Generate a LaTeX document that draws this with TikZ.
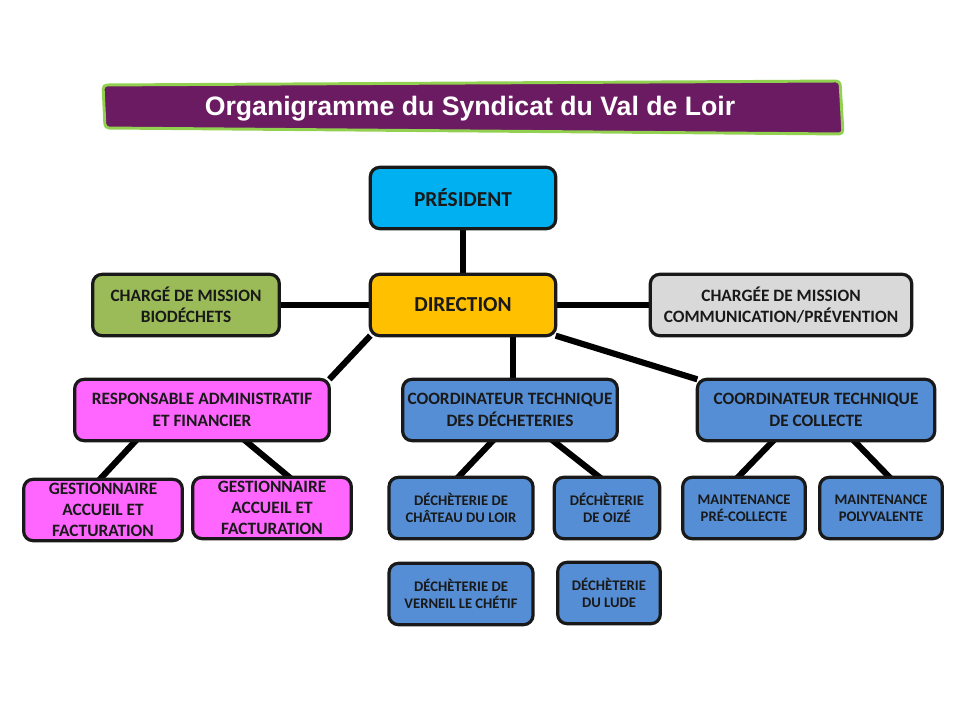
\documentclass[tikz,border=0pt]{standalone}
\usepackage{fontspec}
\setmainfont{Carlito}
\newfontfamily\titlefont{Liberation Sans}
\usetikzlibrary{calc,positioning,backgrounds}
\definecolor{ciel}{HTML}{00B0F0}
\definecolor{orange}{HTML}{FFC000}
\definecolor{olive}{HTML}{9BBB59}
\definecolor{gris}{HTML}{D9D9D9}
\definecolor{rose}{HTML}{FF66FF}
\definecolor{bleu}{HTML}{558ED5}
\definecolor{violet}{HTML}{6B1B62}
\definecolor{vert}{HTML}{92D050}

\begin{document}
\begin{tikzpicture}[x=0.75pt,y=-0.75pt,inner sep=0.4mm,
  box/.style={draw=black!90,line width=2.4pt,rounded corners=7pt,align=center,outer sep=0pt,
    text=black!90,minimum height=46pt,font=\bfseries\fontsize{13}{16}\selectfont},
  small/.style={font=\bfseries\fontsize{11}{12.5}\selectfont},
  lien/.style={line width=4.6pt,shorten <=-3pt,shorten >=-3pt}]
\useasboundingbox (0,0) rectangle (960,720);
% titre
\draw[fill=violet,draw=vert,line width=2.2pt,rounded corners=3pt]
  (103,85) -- (840,81) -- (843,134) -- (105,128) -- cycle;
\node[text=white,font=\titlefont\bfseries\fontsize{20}{24}\selectfont] (titre) at (470,109) {Organigramme du Syndicat du Val de Loir};
% niveau 1
\node[box,fill=ciel,minimum width=139pt,font=\bfseries\fontsize{16}{19}\selectfont] (pres) at (463,198) {PRÉSIDENT};
\node[box,fill=orange,minimum width=139pt,font=\bfseries\fontsize{16}{19}\selectfont] (dir) at (463,305) {DIRECTION};
\node[box,fill=olive,minimum width=140pt] (bio) at (186,305) {CHARGÉ DE MISSION\\BIODÉCHETS};
\node[box,fill=gris,minimum width=196pt] (com) at (781,305) {CHARGÉE DE MISSION\\COMMUNICATION/PRÉVENTION};
% niveau 2
\node[box,fill=rose,minimum width=191pt] (resp) at (202,410) {RESPONSABLE ADMINISTRATIF\\ET FINANCIER};
\node[box,fill=bleu,minimum width=161pt] (coordd) at (510,410) {COORDINATEUR TECHNIQUE\\DES DÉCHETERIES};
\node[box,fill=bleu,minimum width=178pt] (coordc) at (816,410) {COORDINATEUR TECHNIQUE\\DE COLLECTE};
% niveau 3
\node[box,fill=rose,minimum width=119pt] (gest1) at (103,510) {GESTIONNAIRE\\ACCUEIL ET\\FACTURATION};
\node[box,fill=rose,minimum width=119pt] (gest2) at (272,508) {GESTIONNAIRE\\ACCUEIL ET\\FACTURATION};
\node[box,small,fill=bleu,minimum width=108pt] (dech1) at (461,508) {DÉCHÈTERIE DE\\CHÂTEAU DU LOIR};
\node[box,small,fill=bleu,minimum width=79pt] (dech2) at (607,508) {DÉCHÈTERIE\\DE OIZÉ};
\node[box,small,fill=bleu,minimum width=108pt] (dech3) at (461,594) {DÉCHÈTERIE DE\\VERNEIL LE CHÉTIF};
\node[box,small,fill=bleu,minimum width=77pt] (dech4) at (609,593) {DÉCHÈTERIE\\DU LUDE};
\node[box,small,fill=bleu,minimum width=92pt] (maint1) at (744,508) {MAINTENANCE\\PRÉ-COLLECTE};
\node[box,small,fill=bleu,minimum width=92pt] (maint2) at (881,508) {MAINTENANCE\\POLYVALENTE};
% liens
\begin{scope}[on background layer]
\draw[lien] (pres) -- (dir);
\draw[lien] (dir) -- (bio);
\draw[lien] (dir) -- (com);
\draw[lien,shorten <=0pt,shorten >=0pt] (dir.south west) -- (resp.north east);
\draw[lien] ($(dir.south west)!.77!(dir.south east)$) coordinate (d1) -- (d1 |- coordd.north);
\draw[lien,shorten <=0pt,shorten >=0pt] (dir.south east) -- (coordc.north west);
\draw[lien] ($(resp.south west)!.24!(resp.south east)$) -- ($(gest1.north west)!.48!(gest1.north east)$);
\draw[lien] ($(resp.south west)!.67!(resp.south east)$) -- ($(gest2.north west)!.61!(gest2.north east)$);
\draw[lien] ($(coordd.south west)!.42!(coordd.south east)$) -- ($(dech1.north west)!.48!(dech1.north east)$);
\draw[lien] ($(coordd.south west)!.70!(coordd.south east)$) -- ($(dech2.north west)!.43!(dech2.north east)$);
\draw[lien] ($(coordc.south west)!.32!(coordc.south east)$) -- ($(maint1.north west)!.45!(maint1.north east)$);
\draw[lien] ($(coordc.south west)!.66!(coordc.south east)$) -- ($(maint2.north west)!.57!(maint2.north east)$);
\end{scope}
\end{tikzpicture}
\end{document}
